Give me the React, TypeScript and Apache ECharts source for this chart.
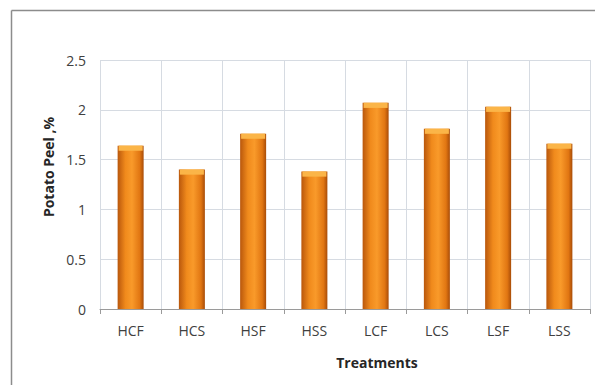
import React, { useEffect, useRef } from "react";
import * as echarts from "echarts";

const treatments = ["HCF", "HCS", "HSF", "HSS", "LCF", "LCS", "LSF", "LSS"];
const potatoPeel = [1.64, 1.4, 1.76, 1.38, 2.07, 1.81, 2.03, 1.66];
const yTicks = { min: 0, max: 2.5, interval: 0.5 };

const FONT = "'Open Sans', 'Liberation Sans', sans-serif";

export default function App() {
  const ref = useRef<HTMLDivElement>(null);

  useEffect(() => {
    if (!ref.current) return;
    document.body.style.margin = "0";
    const chart = echarts.init(ref.current, undefined, { renderer: "svg" });
    const barFill = new echarts.graphic.LinearGradient(0, 0, 1, 0, [
      { offset: 0, color: "#b9570c" },
      { offset: 0.3, color: "#f08a1c" },
      { offset: 0.55, color: "#f99a2a" },
      { offset: 0.85, color: "#e17612" },
      { offset: 1, color: "#a84c08" },
    ]);
    chart.setOption({
      animation: false,
      backgroundColor: "#ffffff",
      grid: { left: 100, right: 5, top: 60, bottom: 76 },
      xAxis: {
        type: "category",
        data: treatments,
        axisLine: { lineStyle: { color: "#9a9a9a" } },
        axisTick: { show: true, length: 5, lineStyle: { color: "#9a9a9a" } },
        axisLabel: { color: "#404040", fontFamily: FONT, fontSize: 14, margin: 14 },
        splitLine: { show: true, lineStyle: { color: "#d6dbe2" } },
      },
      yAxis: {
        type: "value",
        min: yTicks.min,
        max: yTicks.max,
        interval: yTicks.interval,
        axisLine: { show: false },
        axisTick: { show: false },
        axisLabel: { color: "#404040", fontFamily: FONT, fontSize: 14, margin: 14 },
        splitLine: { lineStyle: { color: "#d6dbe2" } },
      },
      series: [
        {
          type: "bar",
          data: potatoPeel,
          barWidth: 26,
          itemStyle: { color: barFill },
        },
        {
          type: "pictorialBar",
          data: potatoPeel,
          symbol: "ellipse",
          symbolSize: [24, 5],
          symbolPosition: "end",
          symbolOffset: [0, 0],
          itemStyle: { color: "#fbb548" },
          z: 3,
        },
      ],
      graphic: [
        {
          type: "line",
          shape: { x1: 11.5, y1: 10.5, x2: 595, y2: 10.5 },
          style: { stroke: "#8c8c8c", lineWidth: 1.5 },
        },
        {
          type: "line",
          shape: { x1: 11.5, y1: 10.5, x2: 11.5, y2: 385 },
          style: { stroke: "#8c8c8c", lineWidth: 1.5 },
        },
        {
          type: "text",
          x: 48,
          y: 167,
          rotation: Math.PI / 2,
          style: {
            text: "Potato Peel ,%",
            fill: "#262626",
            font: `bold 14px ${FONT}`,
            align: "center",
            verticalAlign: "middle",
          },
        },
        {
          type: "text",
          x: 377,
          y: 362,
          style: {
            text: "Treatments",
            fill: "#262626",
            font: `bold 14px ${FONT}`,
            align: "center",
            verticalAlign: "middle",
          },
        },
      ],
    });
    return () => chart.dispose();
  }, []);

  return <div ref={ref} style={{ width: 595, height: 385 }} />;
}
